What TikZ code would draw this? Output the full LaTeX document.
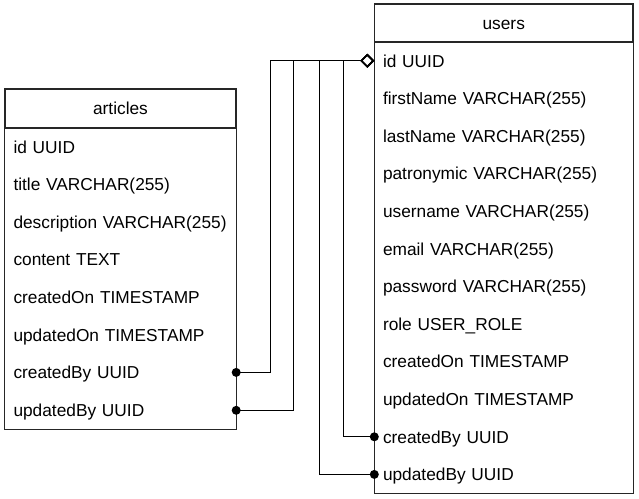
\documentclass[tikz,border=0pt]{standalone}
\usepackage{fontspec}
\setmainfont{Liberation Sans}
\usetikzlibrary{arrows.meta}
\begin{document}
\begin{tikzpicture}[x=1pt,y=-1pt,
  font=\fontsize{17.3}{20}\selectfont,
  tbl/.style={draw=black!85, line width=1.2pt},
  hdr/.style={tbl, inner sep=0pt, text height=12.4pt, text depth=0pt},
  rowbox/.style={inner xsep=8.5pt, inner ysep=0pt, minimum height=37.6pt, align=left, text height=12.4pt, text depth=0pt},
  arow/.style={rowbox, minimum width=231pt, text width=214pt},
  urow/.style={rowbox, minimum width=258.5pt, text width=241.5pt},
  link/.style={draw=black, line width=1.2pt},
  endone/.style={-{Diamond[open, length=14pt, width=14pt, line width=1.5pt]}},
  dotr/.style={fill=black}
]
\useasboundingbox (0,0) rectangle (639,498);

% articles table
\node[hdr, minimum width=231pt, minimum height=39pt] (articles) at (120.5,108.5) {articles};
\node[arow] (a1) at (120.5,146.8) {id UUID};
\node[arow] (a2) at (120.5,184.4) {title VARCHAR(255)};
\node[arow] (a3) at (120.5,222.0) {description VARCHAR(255)};
\node[arow] (a4) at (120.5,259.6) {content TEXT};
\node[arow] (a5) at (120.5,297.2) {createdOn TIMESTAMP};
\node[arow] (a6) at (120.5,334.8) {updatedOn TIMESTAMP};
\node[arow] (a7) at (120.5,372.4) {createdBy UUID};
\node[arow] (a8) at (120.5,410.3) {updatedBy UUID};
\draw[tbl] (a1.north west) rectangle (a8.south east);

% users table
\node[hdr, minimum width=258.5pt, minimum height=38pt] (users) at (503.75,23) {users};
\node[urow] (u1) at (503.75,60.8) {id UUID};
\node[urow] (u2) at (503.75,98.4) {firstName VARCHAR(255)};
\node[urow] (u3) at (503.75,136.0) {lastName VARCHAR(255)};
\node[urow] (u4) at (503.75,173.6) {patronymic VARCHAR(255)};
\node[urow] (u5) at (503.75,211.2) {username VARCHAR(255)};
\node[urow] (u6) at (503.75,248.8) {email VARCHAR(255)};
\node[urow] (u7) at (503.75,286.4) {password VARCHAR(255)};
\node[urow] (u8) at (503.75,324.0) {role USER\_ROLE};
\node[urow] (u9) at (503.75,361.6) {createdOn TIMESTAMP};
\node[urow] (u10) at (503.75,399.2) {updatedOn TIMESTAMP};
\node[urow] (u11) at (503.75,436.8) {createdBy UUID};
\node[urow] (u12) at (503.75,474.4) {updatedBy UUID};
\draw[tbl] (u1.north west) rectangle (u12.south east);

% connectors
\draw[link, endone] (a7.east) -- ++(34,0) |- (u1.west);
\draw[link, endone] (a8.east) -- ++(57,0) |- (u1.west);
\draw[link, endone] (u11.west) -- ++(-30.5,0) |- (u1.west);
\draw[link, endone] (u12.west) -- ++(-54.5,0) |- (u1.west);
\fill[dotr] (a7.east) circle (4.5);
\fill[dotr] (a8.east) circle (4.5);
\fill[dotr] (u11.west) circle (4.5);
\fill[dotr] (u12.west) circle (4.5);
\end{tikzpicture}
\end{document}
